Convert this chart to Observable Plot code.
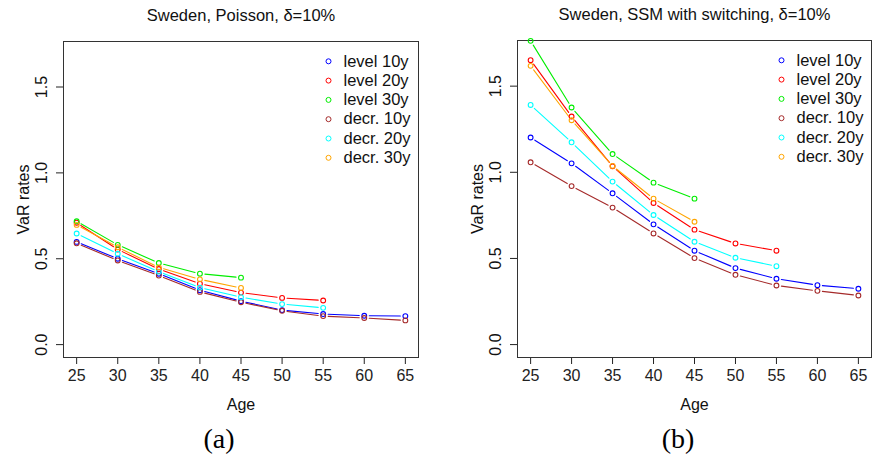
<!DOCTYPE html>
<html>
<head>
<meta charset="utf-8">
<script src="https://cdn.jsdelivr.net/npm/d3@7"></script>
<script src="https://cdn.jsdelivr.net/npm/@observablehq/plot@0.6"></script>
<style>
  html, body { margin: 0; padding: 0; background: #fff; }
  #wrap { position: relative; width: 881px; height: 462px; background: #fff; overflow: hidden; }
  .panel { position: absolute; top: 0; }
  .cap { position: absolute; top: 423px; font-family: "Liberation Serif", "Times New Roman", serif; font-size: 28px; color: #000; transform: translateX(-50%); }
</style>
</head>
<body>
<div id="wrap"></div>
<script>
// ---------- data ----------
const ages = [25, 30, 35, 40, 45, 50, 55, 60, 65];
const seriesNames = ["level 10y", "level 20y", "level 30y", "decr. 10y", "decr. 20y", "decr. 30y"];
const seriesColors = ["#0000FF", "#FF0000", "#00EE00", "#A52A2A", "#00FFFF", "#FFA500"];
const yTicks = [0, 0.5, 1.0, 1.5];

// Panel (a): Sweden, Poisson
const poisLevel10 = [0.598, 0.500, 0.413, 0.317, 0.253, 0.201, 0.178, 0.168, 0.166];
const poisLevel20 = [0.710, 0.554, 0.440, 0.355, 0.303, 0.272, 0.257];
const poisLevel30 = [0.718, 0.581, 0.475, 0.413, 0.390];
const poisDecr10  = [0.590, 0.490, 0.402, 0.307, 0.247, 0.197, 0.166, 0.155, 0.141];
const poisDecr20  = [0.647, 0.529, 0.425, 0.332, 0.276, 0.236, 0.214];
const poisDecr30  = [0.697, 0.567, 0.450, 0.380, 0.330];

// Panel (b): Sweden, SSM with switching
const ssmLevel10 = [1.202, 1.052, 0.878, 0.698, 0.545, 0.444, 0.382, 0.345, 0.324];
const ssmLevel20 = [1.651, 1.324, 1.035, 0.822, 0.667, 0.587, 0.545];
const ssmLevel30 = [1.763, 1.376, 1.106, 0.940, 0.847];
const ssmDecr10  = [1.058, 0.920, 0.795, 0.645, 0.502, 0.405, 0.343, 0.312, 0.285];
const ssmDecr20  = [1.391, 1.174, 0.946, 0.752, 0.597, 0.504, 0.455];
const ssmDecr30  = [1.618, 1.302, 1.037, 0.847, 0.713];

const titleA = "Sweden, Poisson, \u03B4=10%";
const titleB = "Sweden, SSM with switching, \u03B4=10%";

// ---------- build ----------
function toPoints(seriesValues) {
  const pts = [];
  seriesValues.forEach((vals, i) => {
    vals.forEach((v, j) => pts.push({series: seriesNames[i], age: ages[j], value: v}));
  });
  return pts;
}
function toSegments(seriesValues) {
  const segs = [];
  seriesValues.forEach((vals, i) => {
    for (let j = 1; j < vals.length; j++) {
      segs.push({series: seriesNames[i], a1: ages[j - 1], v1: vals[j - 1], a2: ages[j], v2: vals[j]});
    }
  });
  return segs;
}

function panel({title, values, width, marginLeft, marginRight, marginTop}) {
  const pts = toPoints(values);
  const segs = toSegments(values);
  const legendMarks = [];
  seriesNames.forEach((name, i) => {
    legendMarks.push(Plot.dot([name], {frameAnchor: "top-right", dx: -90, dy: 19.8 + 19.3 * i, r: 2.5, stroke: d => d, strokeWidth: 1}));
    legendMarks.push(Plot.text([name], {frameAnchor: "top-right", dx: -75, dy: 19.8 + 19.3 * i, text: d => d, textAnchor: "start", lineAnchor: "middle", fontSize: 16.5, fill: "#111"}));
  });
  return Plot.plot({
    width, height: 420,
    marginLeft, marginRight, marginTop, marginBottom: 420 - 357,
    style: {fontFamily: "'Liberation Sans', Arial, sans-serif", fontSize: "16px", color: "#222", background: "transparent"},
    x: {domain: [23.4, 66.6], ticks: ages, tickSize: 7, tickPadding: 5, tickFormat: d => String(d), label: null},
    y: {domain: [-0.075, 1.765], ticks: yTicks, tickSize: 7, tickFormat: () => "", label: null},
    color: {domain: seriesNames, range: seriesColors},
    marks: [
      Plot.frame({stroke: "#333"}),
      Plot.arrow(segs, {x1: "a1", y1: "v1", x2: "a2", y2: "v2", stroke: "series", strokeWidth: 1.1, headLength: 0, insetStart: 5, insetEnd: 5}),
      Plot.dot(pts, {x: "age", y: "value", stroke: "series", r: 2.4, strokeWidth: 1.1}),
      Plot.text(yTicks, {y: d => d, text: d => d.toFixed(1), frameAnchor: "left", dx: -22, rotate: -90, textAnchor: "middle", lineAnchor: "middle", fontSize: 16, fill: "#111"}),
      Plot.text(["VaR rates"], {frameAnchor: "left", dx: -40, rotate: -90, text: d => d, textAnchor: "middle", lineAnchor: "middle", fontSize: 16, fill: "#111"}),
      Plot.text(["Age"], {frameAnchor: "bottom", dy: 47, text: d => d, textAnchor: "middle", lineAnchor: "middle", fontSize: 16, fill: "#111"}),
      Plot.text([title], {frameAnchor: "top", dy: -26, text: d => d, textAnchor: "middle", lineAnchor: "middle", fontSize: 16.5, fill: "#111"}),
      ...legendMarks
    ]
  });
}

const wrap = document.getElementById("wrap");

const left = panel({title: titleA, values: [poisLevel10, poisLevel20, poisLevel30, poisDecr10, poisDecr20, poisDecr30], width: 440, marginLeft: 63, marginRight: 22, marginTop: 41});
left.classList.add("panel"); left.style.left = "0px";
wrap.appendChild(left);

const right = panel({title: titleB, values: [ssmLevel10, ssmLevel20, ssmLevel30, ssmDecr10, ssmDecr20, ssmDecr30], width: 431, marginLeft: 67, marginRight: 10, marginTop: 40});
right.classList.add("panel"); right.style.left = "450px";
wrap.appendChild(right);

const capA = document.createElement("div"); capA.className = "cap"; capA.style.left = "219px"; capA.textContent = "(a)";
const capB = document.createElement("div"); capB.className = "cap"; capB.style.left = "678px"; capB.textContent = "(b)";
wrap.appendChild(capA); wrap.appendChild(capB);
</script>
</body>
</html>
